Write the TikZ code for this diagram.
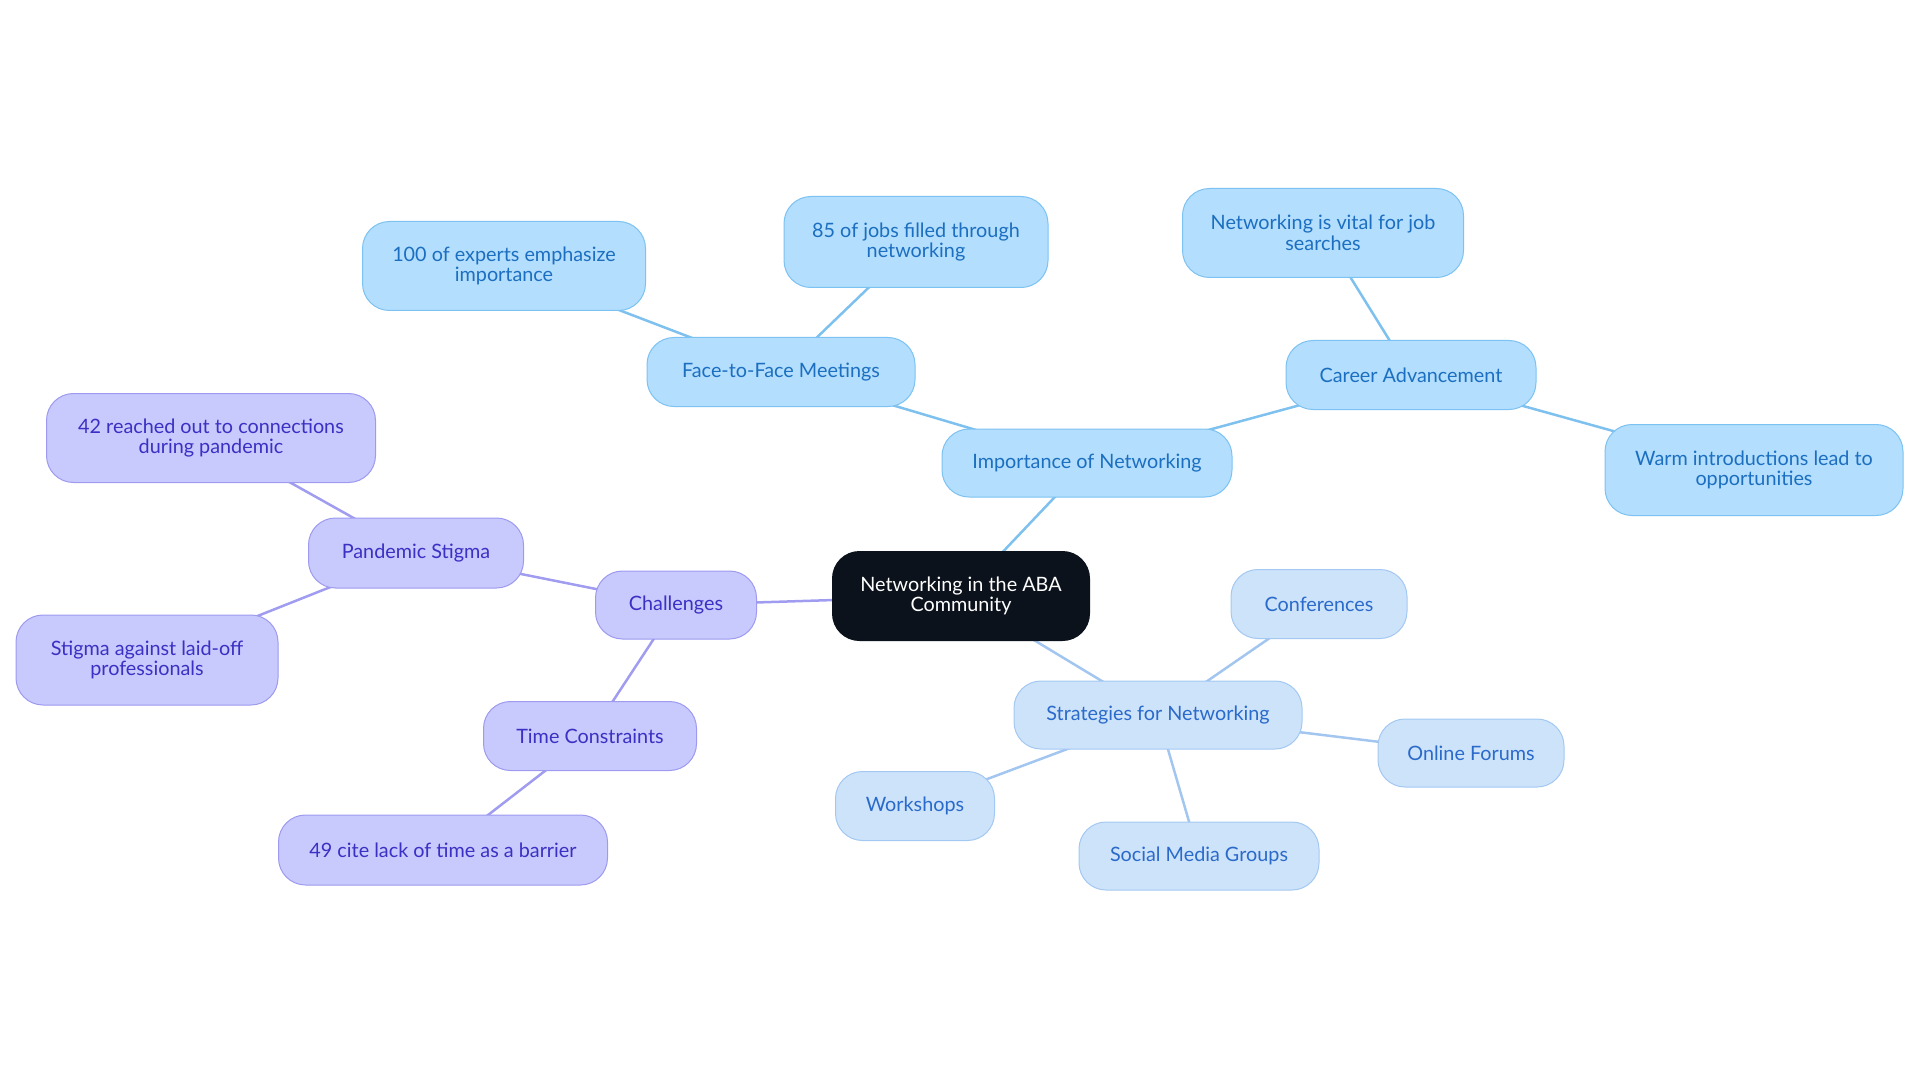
\documentclass[tikz,border=0pt]{standalone}
\usepackage{fontspec}
\setmainfont{Lato}
\usetikzlibrary{backgrounds}
\definecolor{bfill}{HTML}{B3DEFD}
\definecolor{bdraw}{HTML}{7CC2F2}
\definecolor{btext}{HTML}{1C6FC0}
\definecolor{lfill}{HTML}{CDE3FA}
\definecolor{ldraw}{HTML}{A3C8F2}
\definecolor{ltext}{HTML}{2A6ACB}
\definecolor{pfill}{HTML}{C8C9FC}
\definecolor{pdraw}{HTML}{9D9AF0}
\definecolor{ptext}{HTML}{3B30C4}
\definecolor{cfill}{HTML}{0B121C}
\definecolor{bedge}{HTML}{7EC1EE}
\definecolor{ledge}{HTML}{A3C6F0}
\definecolor{pedge}{HTML}{A09CF0}
\tikzset{
  base/.style={rounded corners=27pt, line width=1pt, align=center, inner sep=0pt,
    font=\fontsize{19.8}{20.5}\selectfont},
  rootnode/.style={base, fill=cfill, draw=cfill, text=white},
  bluenode/.style={base, fill=bfill, draw=bdraw, text=btext},
  lightnode/.style={base, fill=lfill, draw=ldraw, text=ltext},
  purpnode/.style={base, fill=pfill, draw=pdraw, text=ptext},
  edgebase/.style={line width=2.5pt, shorten <=-16pt, shorten >=-16pt},
  bline/.style={edgebase, draw=bedge},
  lline/.style={edgebase, draw=ledge},
  pline/.style={edgebase, draw=pedge},
}
\begin{document}
\begin{tikzpicture}[x=1pt,y=-1pt]
\useasboundingbox (0,0) rectangle (1920,1083);
% root
\node[rootnode, minimum width=257pt, minimum height=89pt] (root) at (961,596) {Networking in the ABA\\Community};
% importance branch
\node[bluenode, minimum width=290pt, minimum height=68pt] (imp) at (1087,463) {Importance of Networking};
\node[bluenode, minimum width=268pt, minimum height=69pt] (face) at (781,372) {Face-to-Face Meetings};
\node[bluenode, minimum width=283pt, minimum height=89pt] (exp) at (504,266) {100 of experts emphasize\\importance};
\node[bluenode, minimum width=264pt, minimum height=91pt] (jobs) at (916,242) {85 of jobs filled through\\networking};
\node[bluenode, minimum width=250pt, minimum height=69pt] (career) at (1411,375) {Career Advancement};
\node[bluenode, minimum width=281pt, minimum height=89pt] (vital) at (1323,233) {Networking is vital for job\\searches};
\node[bluenode, minimum width=298pt, minimum height=91pt] (warm) at (1754,470) {Warm introductions lead to\\opportunities};
% challenges branch
\node[purpnode, minimum width=161pt, minimum height=68pt] (chal) at (676,605) {Challenges};
\node[purpnode, minimum width=215pt, minimum height=70pt] (pand) at (416,553) {Pandemic Stigma};
\node[purpnode, minimum width=329pt, minimum height=89pt] (reach) at (211,438) {42 reached out to connections\\during pandemic};
\node[purpnode, minimum width=262pt, minimum height=90pt] (laid) at (147,660) {Stigma against laid-off\\professionals};
\node[purpnode, minimum width=213pt, minimum height=69pt] (time) at (590,736) {Time Constraints};
\node[purpnode, minimum width=329pt, minimum height=70pt] (lack) at (443,850) {49 cite lack of time as a barrier};
% strategies branch
\node[lightnode, minimum width=288pt, minimum height=68pt] (strat) at (1158,715) {Strategies for Networking};
\node[lightnode, minimum width=176pt, minimum height=69pt] (conf) at (1319,604) {Conferences};
\node[lightnode, minimum width=186pt, minimum height=68pt] (forum) at (1471,753) {Online Forums};
\node[lightnode, minimum width=240pt, minimum height=68pt] (social) at (1199,856) {Social Media Groups};
\node[lightnode, minimum width=159pt, minimum height=69pt] (work) at (915,806) {Workshops};
\begin{pgfonlayer}{background}
\draw[bline] (root) -- (imp);
\draw[bline] (imp) -- (face);
\draw[bline] (face) -- (exp);
\draw[bline] (face) -- (jobs);
\draw[bline] (imp) -- (career);
\draw[bline] (career) -- (vital);
\draw[bline] (career) -- (warm);
\draw[pline] (root) -- (chal);
\draw[pline] (chal) -- (pand);
\draw[pline] (pand) -- (reach);
\draw[pline] (pand) -- (laid);
\draw[pline] (chal) -- (time);
\draw[pline] (time) -- (lack);
\draw[lline] (root) -- (strat);
\draw[lline] (strat) -- (conf);
\draw[lline] (strat) -- (forum);
\draw[lline] (strat) -- (social);
\draw[lline] (strat) -- (work);
\end{pgfonlayer}
\end{tikzpicture}
\end{document}
